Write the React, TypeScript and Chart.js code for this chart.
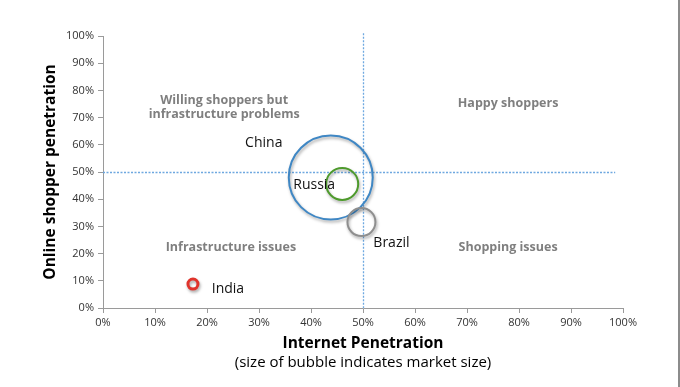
import React, { useEffect, useRef } from "react";
import { Chart, registerables } from "chart.js";

Chart.register(...registerables);

const countries = ["China", "Russia", "Brazil", "India"];
const internetPenetration = [43.8, 46.0, 49.7, 17.3];
const onlineShopperPenetration = [48.0, 45.6, 31.6, 8.8];
const marketSizeRadius = [42, 16, 14, 5];
const bubbleColors = ["#3f87c4", "#4e9a2c", "#8e8e8e", "#e0342c"];
const bubbleBorderWidths = [2, 2, 2, 3];
const labelOffsets = [[-67, -34], [-28, 1], [30, 21], [35, 5]];

const xTickValues = [0, 10, 20, 30, 40, 50, 60, 70, 80, 90, 100];
const yTickValues = [0, 10, 20, 30, 40, 50, 60, 70, 80, 90, 100];

const quadrantLabels = [
  { text: "Willing shoppers but", x: 23.3, y: 76.8 },
  { text: "infrastructure problems", x: 23.3, y: 71.7 },
  { text: "Happy shoppers", x: 77.9, y: 75.7 },
  { text: "Infrastructure issues", x: 24.6, y: 22.8 },
  { text: "Shopping issues", x: 77.9, y: 22.8 },
];

const FONT = "'Open Sans', Lato, sans-serif";

export default function App() {
  const ref = useRef<HTMLCanvasElement | null>(null);

  useEffect(() => {
    if (!ref.current) return;

    const overlay = {
      id: "overlay",
      beforeDatasetsDraw(chart: any) {
        const { ctx, scales } = chart;
        const xs = scales.x, ys = scales.y;
        ctx.save();
        ctx.strokeStyle = "#6ea8e0";
        ctx.lineWidth = 1.3;
        ctx.setLineDash([2, 1.5]);
        const vx = Math.round(xs.getPixelForValue(50)) + 0.5;
        ctx.beginPath();
        ctx.moveTo(vx, ys.getPixelForValue(101));
        ctx.lineTo(vx, ys.getPixelForValue(0));
        ctx.stroke();
        const hy = Math.round(ys.getPixelForValue(50)) + 0.5;
        ctx.beginPath();
        ctx.moveTo(xs.getPixelForValue(0), hy);
        ctx.lineTo(xs.getPixelForValue(98.5), hy);
        ctx.stroke();
        ctx.restore();

        ctx.save();
        ctx.shadowColor = "rgba(0,0,0,0.35)";
        ctx.shadowBlur = 3;
        ctx.shadowOffsetX = 1;
        ctx.shadowOffsetY = 2;
      },
      afterDatasetsDraw(chart: any) {
        const { ctx, scales } = chart;
        ctx.restore();
        const xs = scales.x, ys = scales.y;
        ctx.save();
        ctx.fillStyle = "#7f7f7f";
        ctx.font = `bold 12.5px ${FONT}`;
        ctx.textAlign = "center";
        ctx.textBaseline = "middle";
        quadrantLabels.forEach((q) => {
          ctx.fillText(q.text, xs.getPixelForValue(q.x), ys.getPixelForValue(q.y) + 1);
        });
        ctx.fillStyle = "#111";
        ctx.font = `14px ${FONT}`;
        const meta = chart.getDatasetMeta(0);
        meta.data.forEach((el: any, i: number) => {
          ctx.fillText(countries[i], el.x + labelOffsets[i][0], el.y + labelOffsets[i][1]);
        });
        ctx.fillStyle = "#000";
        ctx.font = `bold 15.5px ${FONT}`;
        const cx = (xs.left + xs.right) / 2;
        ctx.fillText("Internet Penetration", cx, 344);
        ctx.font = `15px ${FONT}`;
        ctx.fillText("(size of bubble indicates market size)", cx, 363);
        ctx.save();
        ctx.translate(51, (ys.top + ys.bottom) / 2);
        ctx.rotate(-Math.PI / 2);
        ctx.font = `bold 15.5px ${FONT}`;
        ctx.fillText("Online shopper penetration", 0, 0);
        ctx.restore();
        ctx.fillStyle = "#8c8c8c";
        ctx.fillRect(678, 0, 2, 387);
        ctx.restore();
      },
    };

    const chart = new Chart(ref.current, {
      type: "bubble",
      data: {
        datasets: [
          {
            data: countries.map((_, i) => ({
              x: internetPenetration[i],
              y: onlineShopperPenetration[i],
              r: marketSizeRadius[i],
            })),
            backgroundColor: "rgba(255,255,255,0)",
            borderColor: bubbleColors,
            borderWidth: bubbleBorderWidths,
            hoverRadius: 0,
          } as any,
        ],
      },
      options: {
        animation: false,
        responsive: false,
        maintainAspectRatio: false,
        layout: { autoPadding: false, padding: { left: 0, right: 57, top: 36, bottom: 0 } },
        plugins: { legend: { display: false }, tooltip: { enabled: false } },
        scales: {
          x: {
            type: "linear",
            min: 0,
            max: 100,
            afterBuildTicks: (s: any) => {
              s.ticks = xTickValues.map((v) => ({ value: v }));
            },
            afterFit: (s: any) => {
              s.height = 79;
            },
            grid: { drawOnChartArea: false, tickLength: 5, color: "#9a9a9a" },
            border: { color: "#9a9a9a" },
            ticks: {
              padding: 3,
              color: "#333",
              font: { family: FONT, size: 11 },
              callback: (v: any) => `${v}%`,
              maxRotation: 0,
            },
          },
          y: {
            type: "linear",
            min: 0,
            max: 100,
            afterBuildTicks: (s: any) => {
              s.ticks = yTickValues.map((v) => ({ value: v }));
            },
            afterFit: (s: any) => {
              s.width = 103;
            },
            grid: { drawOnChartArea: false, tickLength: 5, color: "#9a9a9a" },
            border: { color: "#9a9a9a" },
            ticks: {
              padding: 4,
              color: "#333",
              font: { family: FONT, size: 11 },
              callback: (v: any) => `${v}%`,
            },
          },
        },
      },
      plugins: [overlay],
    });
    return () => chart.destroy();
  }, []);

  return (
    <div style={{ position: "absolute", left: 0, top: 0, width: 680, height: 387, background: "#fff" }}>
      <canvas ref={ref} width={680} height={387} style={{ width: 680, height: 387 }} />
    </div>
  );
}
